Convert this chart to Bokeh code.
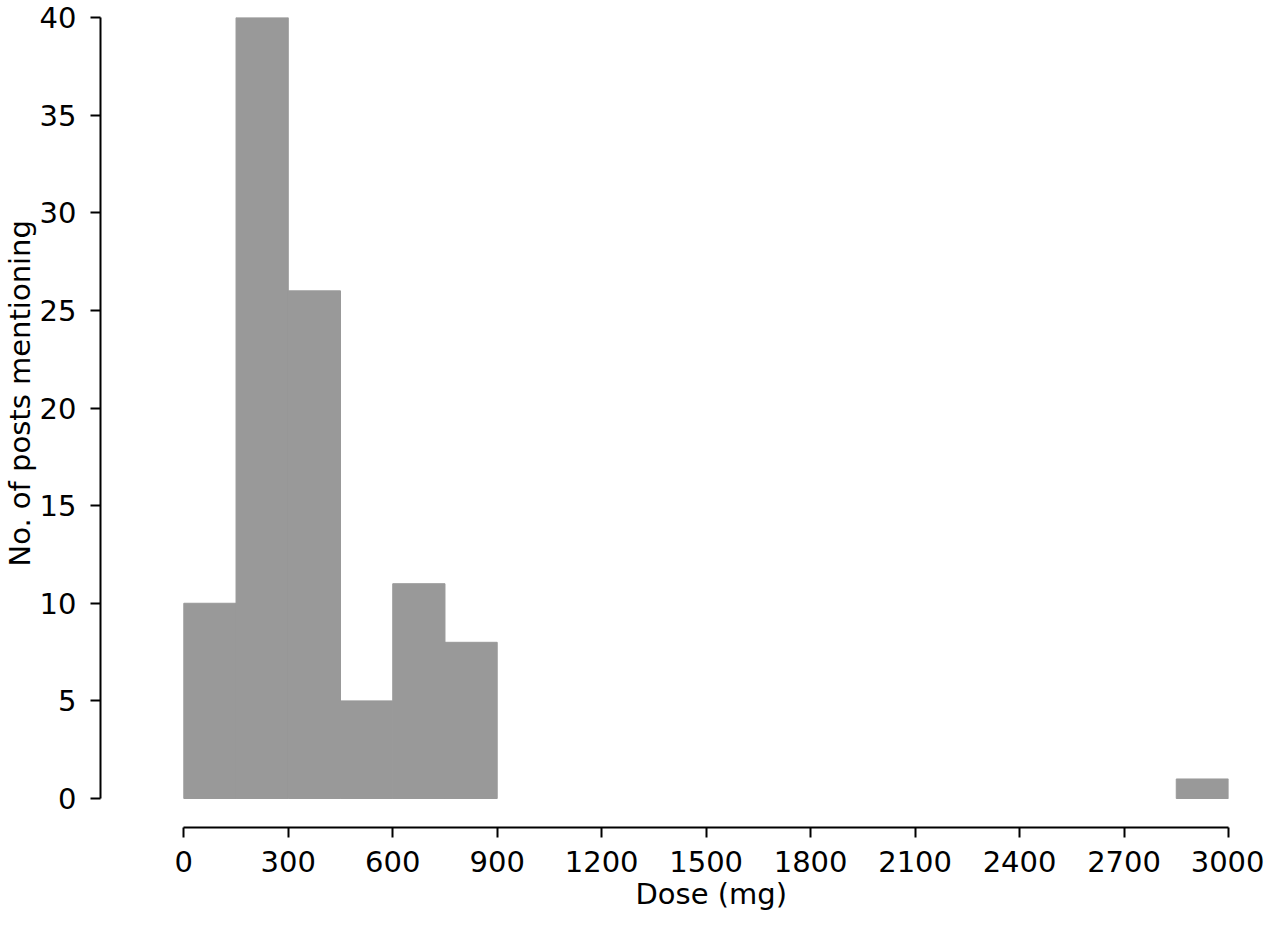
from bokeh.plotting import figure
from bokeh.models import Range1d, FixedTicker, ColumnDataSource, Title
from bokeh.embed import file_html
from bokeh.resources import INLINE

# ---- data ----
bin_left = [0, 150, 300, 450, 600, 750, 900, 1050, 1200, 1350,
            1500, 1650, 1800, 1950, 2100, 2250, 2400, 2550, 2700, 2850]
bin_right = [150, 300, 450, 600, 750, 900, 1050, 1200, 1350, 1500,
             1650, 1800, 1950, 2100, 2250, 2400, 2550, 2700, 2850, 3000]
counts = [10, 40, 26, 5, 11, 8, 0, 0, 0, 0,
          0, 0, 0, 0, 0, 0, 0, 0, 0, 1]
x_ticks = [0, 300, 600, 900, 1200, 1500, 1800, 2100, 2400, 2700, 3000]
y_ticks = [0, 5, 10, 15, 20, 25, 30, 35, 40]
x_label = "Dose (mg)"
y_label = "No. of posts mentioning"

keep = [i for i, c in enumerate(counts) if c > 0]
src = ColumnDataSource(dict(
    left=[bin_left[i] for i in keep],
    right=[bin_right[i] for i in keep],
    top=[counts[i] for i in keep],
    bottom=[0 for i in keep],
))

FONT = "DejaVu Sans"
FS = "29px"

p = figure(width=1264, height=910,
           x_range=Range1d(-239.2, 3000), y_range=Range1d(-1.485, 40),
           min_border_left=100, min_border_right=36,
           min_border_top=17, min_border_bottom=83,
           toolbar_location=None, output_backend="svg")
p.outline_line_color = None
p.xgrid.visible = False
p.ygrid.visible = False
p.background_fill_color = "white"
p.border_fill_color = "white"

p.quad(left="left", right="right", top="top", bottom="bottom", source=src,
       fill_color="#999999", line_color="#999999", line_width=1)

for ax, ticks, b in ((p.xaxis[0], x_ticks, (0, 3000)),
                     (p.yaxis[0], y_ticks, (0, 40))):
    ax.ticker = FixedTicker(ticks=ticks)
    ax.bounds = b
    ax.axis_line_width = 2
    ax.axis_line_color = "black"
    ax.major_tick_line_width = 2
    ax.major_tick_line_color = "black"
    ax.major_tick_out = 10
    ax.major_tick_in = 0
    ax.minor_tick_line_color = None
    ax.major_label_text_font = FONT
    ax.major_label_text_font_size = FS
    ax.major_label_text_color = "black"

p.xaxis[0].major_label_standoff = 13
p.yaxis[0].major_label_standoff = 14

# axis titles, offset along the axis like the reference
p.add_layout(Title(text=x_label, align="left", offset=535, standoff=0,
                   text_font=FONT, text_font_size=FS, text_color="black",
                   text_font_style="normal"), "below")
p.add_layout(Title(text=y_label, align="left", offset=261, standoff=0,
                   text_font=FONT, text_font_size=FS, text_color="black",
                   text_font_style="normal"), "left")

open("out.html", "w").write(file_html(p, INLINE))
